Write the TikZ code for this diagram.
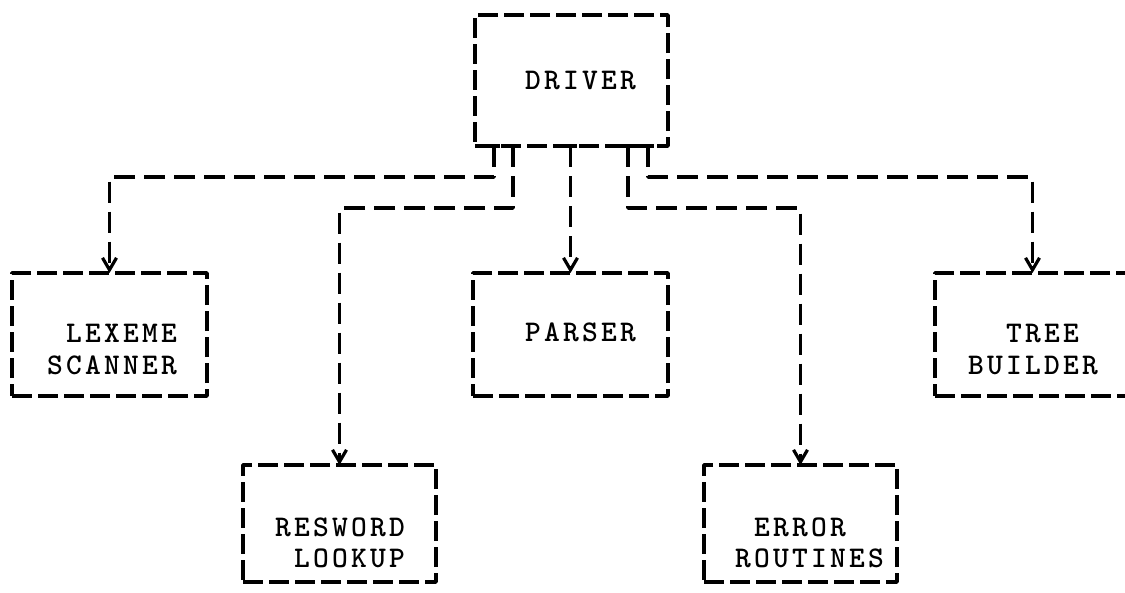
\documentclass[tikz,border=0pt]{standalone}
\usepackage{fontspec}
\usetikzlibrary{arrows.meta}
% heavy typewriter lettering
\newfontfamily\prtfont{lmmonolt10-bold.otf}[LetterSpace=10.8]
\newcommand\prt{\prtfont\fontsize{30}{31}\selectfont}
\begin{document}
\begin{tikzpicture}[x=1pt,y=-1pt,
  box/.style={draw, line width=3.5pt, dash pattern=on 20pt off 6pt,
    line join=round, inner sep=0pt, outer sep=0pt},
  link/.style={line width=3.6pt, dash pattern=on 21pt off 9pt, line join=round,
    -{Straight Barb[length=12pt,width=14pt,line width=3.2pt]}},
  tee/.style={line width=3.5pt},
  lbl/.style={anchor=base west, inner sep=0pt, font=\prt}]
\useasboundingbox (0,0) rectangle (1125,592);

% boxes
\node[box, minimum width=193pt, minimum height=131pt] (drv) at (571.5,80.5) {};
\node[box, minimum width=195pt, minimum height=123pt] (lex) at (109.5,334.5) {};
\node[box, minimum width=195pt, minimum height=123pt] (par) at (570.5,334.5) {};
\node[box, minimum width=195pt, minimum height=123pt] (tre) at (1032.5,334.5) {};
\node[box, minimum width=193pt, minimum height=117pt] (res) at (339.5,523.5) {};
\node[box, minimum width=193pt, minimum height=117pt] (err) at (800.5,523.5) {};

% labels
\node[lbl] (drvA) at (525,89) {DRIVER};
\node[lbl] (lexA) at (66,342) {LEXEME};
\node[lbl] (lexB) at (47,374) {SCANNER};
\node[lbl] (parA) at (525,341) {PARSER};
\node[lbl] (treA) at (1006,342) {TREE};
\node[lbl] (treB) at (968,374) {BUILDER};
\node[lbl] (resA) at (275,536) {RESWORD};
\node[lbl] (resB) at (294,567) {LOOKUP};
\node[lbl] (errA) at (754,536) {ERROR};
\node[lbl] (errB) at (735,567) {ROUTINES};

% exits on the underside of the driver
\coordinate (s1) at ([xshift=-77.5pt]drv.south);
\coordinate (s2) at ([xshift=-58.5pt]drv.south);
\coordinate (s3) at (par.north |- drv.south);
\coordinate (s4) at ([xshift=56.5pt]drv.south);
\coordinate (s5) at ([xshift=76.5pt]drv.south);
\foreach \s in {s1,s2,s3,s4,s5}
  \draw[tee] ([xshift=-6pt]\s) -- ([xshift=6pt]\s);

% calls
\draw[link] (s1) -- ++(0,31) -| (lex.north);
\draw[link] (s2) -- ++(0,62) -| (res.north);
\draw[link] (s3) -- (par.north);
\draw[link] (s4) -- ++(0,62) -| (err.north);
\draw[link] (s5) -- ++(0,31) -| (tre.north);
\end{tikzpicture}
\end{document}
